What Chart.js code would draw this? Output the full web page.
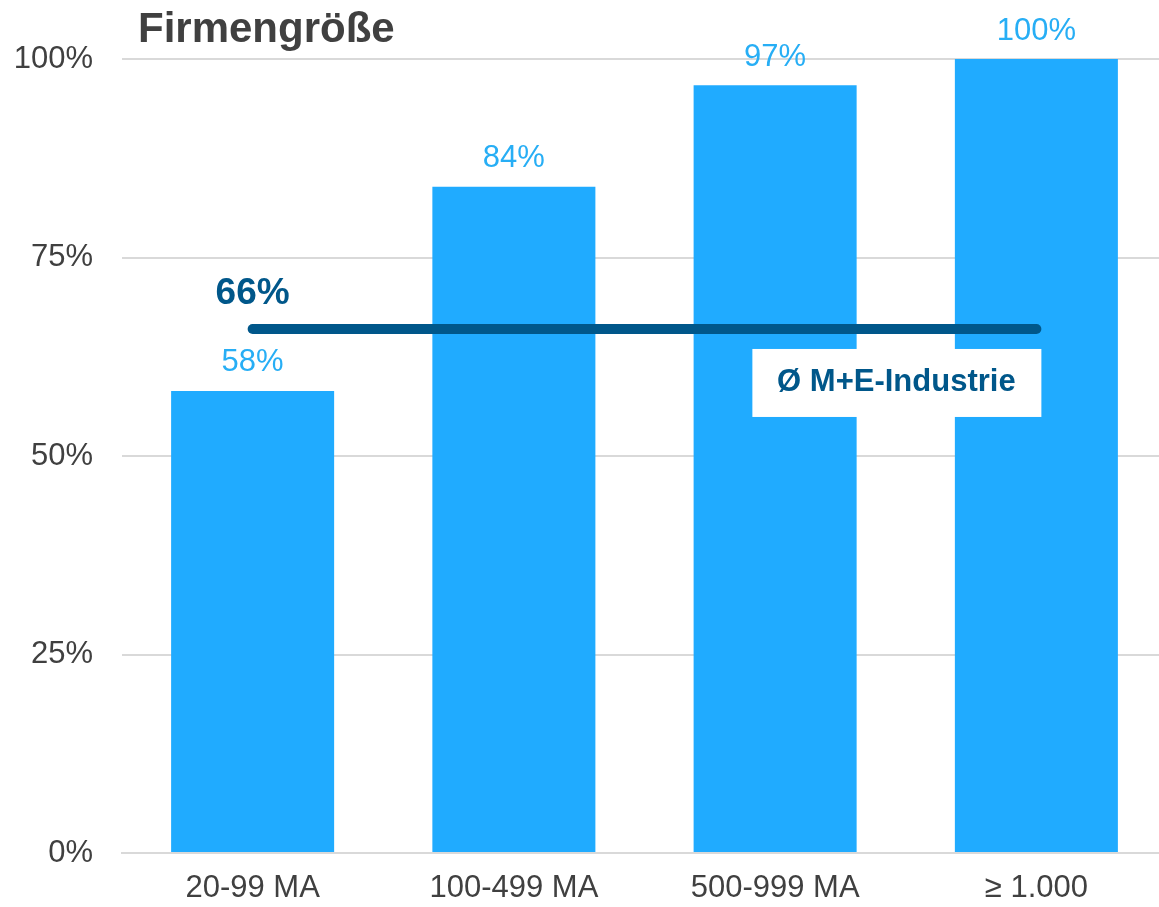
<!DOCTYPE html>
<html lang="de">
<head>
<meta charset="utf-8">
<title>Firmengröße</title>
<script src="https://cdn.jsdelivr.net/npm/chart.js@4"></script>
<style>
  html, body { margin: 0; padding: 0; background: #fff; overflow: hidden; }
  #wrap { width: 1168px; height: 907px; position: relative; }
</style>
</head>
<body>
<div id="wrap"><canvas id="chart"></canvas></div>
<script>
// Daten
const categories = ['20-99 MA', '100-499 MA', '500-999 MA', '\u2265 1.000'];
const shares = [58.2, 83.9, 96.7, 100];
const shareLabels = ['58%', '84%', '97%', '100%'];
const industryAvg = 66;
const industryAvgLabel = '66%';
const avgName = '\u00d8 M+E-Industrie';
const yTicks = [0, 25, 50, 75, 100];

const FONT = '"Liberation Sans", Arial, sans-serif';
const BAR = '#20abff';
const DARK = '#00578a';
const GREY = '#404040';

// Titel, Werte und Durchschnitt beschriften
const labelsPlugin = {
    id: 'labels',
    afterDatasetsDraw(chart) {
        const ctx = chart.ctx;
        const x = chart.scales.x;
        const y = chart.scales.y;
        ctx.save();

        // Werte über den Balken
        ctx.font = '31px ' + FONT;
        ctx.fillStyle = '#27aef5';
        ctx.textAlign = 'center';
        ctx.textBaseline = 'middle';
        chart.getDatasetMeta(1).data.forEach((bar, i) => {
            ctx.fillText(shareLabels[i], bar.x, bar.y - 28);
        });

        // Durchschnitt
        const lineY = y.getPixelForValue(industryAvg);
        ctx.font = 'bold 37px ' + FONT;
        ctx.fillStyle = DARK;
        ctx.fillText(industryAvgLabel, x.getPixelForValue(0), lineY - 35);

        const right = x.getPixelForValue(categories.length - 1) + 5;
        ctx.fillStyle = '#fff';
        ctx.fillRect(right - 289, lineY + 20, 289, 68);
        ctx.font = 'bold 31px ' + FONT;
        ctx.fillStyle = DARK;
        ctx.fillText(avgName, right - 145, lineY + 53);

        // Titel
        ctx.font = 'bold 42px ' + FONT;
        ctx.fillStyle = GREY;
        ctx.textAlign = 'left';
        ctx.fillText('Firmengr\u00f6\u00dfe', 138, 30);
        ctx.restore();
    }
};

const ctx = document.getElementById('chart').getContext('2d');
new Chart(ctx, {
    data: {
        labels: categories,
        datasets: [
            {
                type: 'line',
                data: categories.map(() => industryAvg),
                borderColor: DARK,
                borderWidth: 10,
                borderCapStyle: 'round',
                pointRadius: 0,
                order: 0
            },
            {
                type: 'bar',
                data: shares,
                backgroundColor: BAR,
                categoryPercentage: 1,
                barPercentage: 0.624,
                order: 1
            }
        ]
    },
    options: {
        responsive: true,
        maintainAspectRatio: false,
        animation: false,
        layout: { padding: { top: 59, right: 1, left: 0, bottom: 0 } },
        plugins: {
            legend: { display: false },
            tooltip: { enabled: false }
        },
        scales: {
            x: {
                grid: { display: false },
                border: { display: true, color: '#d9d9d9', width: 2 },
                ticks: { color: GREY, font: { family: FONT, size: 31 }, padding: 9 },
                afterFit(scale) { scale.height = 54; }
            },
            y: {
                min: 0,
                max: 100,
                afterBuildTicks(scale) { scale.ticks = yTicks.map(v => ({ value: v })); },
                grid: { color: '#d9d9d9', lineWidth: 2, drawTicks: false },
                border: { display: false },
                ticks: {
                    color: GREY,
                    font: { family: FONT, size: 31 },
                    padding: 29,
                    callback: v => v + '%'
                },
                afterFit(scale) { scale.width = 122; }
            }
        }
    },
    plugins: [labelsPlugin]
});
</script>
</body>
</html>
